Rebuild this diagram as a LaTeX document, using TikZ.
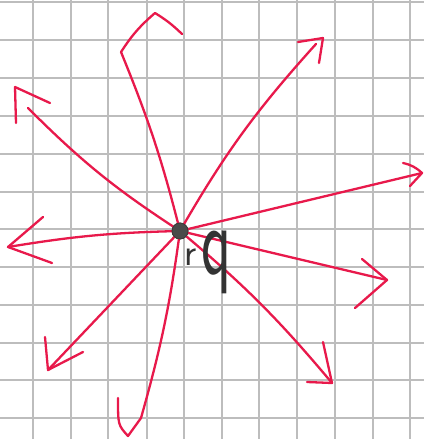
\documentclass[tikz,border=0pt]{standalone}
\usepackage{fontspec}
\usepackage{graphicx}
\definecolor{ink}{HTML}{E8194B}
\definecolor{gridc}{HTML}{BDBDBD}
\definecolor{dotc}{HTML}{4A4A4A}
\definecolor{pen}{HTML}{333333}
\tikzset{
  gridline/.style={gridc, line width=1.2pt},
  arr/.style={ink, line width=2.3pt, line cap=round, line join=round},
  hub/.style={circle, fill=dotc, draw=dotc!80!black, line width=0.8pt, minimum size=16pt, inner sep=0pt},
  handtext/.style={pen, inner sep=0pt, font=\sffamily}
}
\begin{document}
\begin{tikzpicture}[x=1pt,y=-1pt]
\useasboundingbox (0,0) rectangle (424,439);
\fill[white] (0,0) rectangle (424,439);
\foreach \x in {33,71,108,147,184,222,259,297,335,373,410} \draw[gridline] (\x,0) -- (\x,439);
\foreach \y in {2,40,78,116,154,192,229,267,305,343,380,418} \draw[gridline] (0,\y) -- (424,\y);

% tips and arms
\coordinate (nT) at (121,52);  \coordinate (nP) at (155,13);  \coordinate (nR) at (182,34);
\coordinate (nwE) at (28,108); \coordinate (nwT) at (15,87);  \coordinate (nwA) at (50,103); \coordinate (nwB) at (16,123);
\coordinate (neE) at (316,44); \coordinate (neT) at (323,38); \coordinate (neA) at (298,42); \coordinate (neB) at (319,63);
\coordinate (eT) at (422,173); \coordinate (eA) at (403,163); \coordinate (eB) at (410,186);
\coordinate (esT) at (387,280); \coordinate (esA) at (362,259); \coordinate (esB) at (355,308);
\coordinate (seT) at (332,383); \coordinate (seA) at (323,342); \coordinate (seB) at (307,382);
\coordinate (sE) at (141,418); \coordinate (sT) at (128,436); \coordinate (sA) at (118,398);
\coordinate (swT) at (48,370); \coordinate (swA) at (45,337); \coordinate (swB) at (83,352);
\coordinate (wT) at (8,247);  \coordinate (wA) at (43,217); \coordinate (wB) at (52,263);

\node[hub] (c) at (180,231) {};

% shafts
\draw[arr] (c.center) to[bend right=4] (nT);
\draw[arr] (c.center) to[bend left=6] (nwE);
\draw[arr] (c.center) to[bend left=6] (neE);
\draw[arr] (c.center) -- (eT);
\draw[arr] (c.center) -- (esT);
\draw[arr] (c.center) to[bend left=5] (seT);
\draw[arr] (c.center) to[bend left=4] (sE);
\draw[arr] (c.center) -- (swT);
\draw[arr] (c.center) to[bend right=4] (wT);

% heads
\draw[arr] (nT) to[bend left=8] (nP) to[bend left=6] (nR);
\draw[arr] (nwA) -- (nwT) -- (nwB);
\draw[arr] (neA) -- (neT) -- (neB);
\draw[arr] (eA) to[bend left=15] (eT) -- (eB);
\draw[arr] (esA) -- (esT) -- (esB);
\draw[arr] (seA) -- (seT) -- (seB);
\draw[arr] (sA) .. controls (118,425) .. (sT) -- (sE);
\draw[arr] (swA) -- (swT) -- (swB);
\draw[arr] (wA) -- (wT) -- (wB);

\node[hub] (c2) at (180,231) {};

% labels
\node[handtext, anchor=base west] (r) at (184,265) {\fontsize{38}{38}\selectfont r};
\node[handtext, anchor=base west] (q) at (201,274) {\scalebox{1}[1.6]{\fontsize{62}{62}\selectfont q}};
\end{tikzpicture}
\end{document}
